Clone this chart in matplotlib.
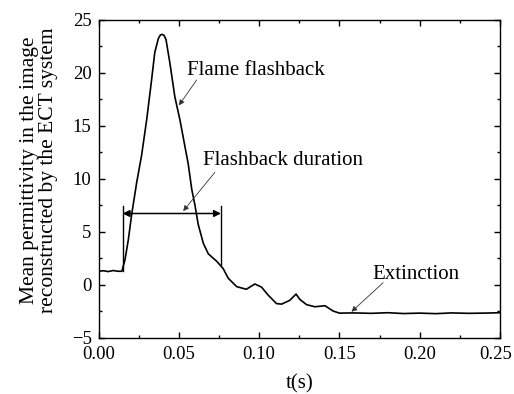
import matplotlib
matplotlib.use("Agg")
import matplotlib.pyplot as plt
from matplotlib.ticker import MultipleLocator
from matplotlib.transforms import ScaledTranslation

plt.rcParams['font.family'] = ['Liberation Serif', 'DejaVu Serif']

# time (s) and mean permittivity
t = [0.000, 0.003, 0.006, 0.009, 0.012, 0.0145, 0.0164, 0.0185, 0.0206, 0.0237,
     0.0268, 0.0300, 0.0330, 0.0350, 0.0372, 0.0385, 0.0396, 0.0408, 0.0420,
     0.0444, 0.0475, 0.0507, 0.0538, 0.0558, 0.0580, 0.0600, 0.0620, 0.0652,
     0.0683, 0.0735, 0.0776, 0.0807, 0.0860, 0.0920, 0.0973, 0.1015, 0.1056,
     0.1108, 0.1140, 0.1190, 0.1230, 0.1253, 0.1295, 0.1347, 0.1410, 0.1460,
     0.1500, 0.1585, 0.1700, 0.1800, 0.1900, 0.2000, 0.2100, 0.2200, 0.2300,
     0.2400, 0.2500]
v = [1.25, 1.30, 1.22, 1.32, 1.25, 1.25, 2.3, 4.2, 6.6, 9.6,
     12.2, 15.6, 19.3, 21.9, 23.2, 23.55, 23.6, 23.5, 23.1,
     20.9, 17.7, 15.5, 13.0, 11.4, 9.0, 7.5, 5.7, 3.9,
     2.9, 2.2, 1.5, 0.6, -0.2, -0.45, 0.05, -0.25, -1.0,
     -1.8, -1.85, -1.5, -0.9, -1.4, -1.9, -2.1, -2.0, -2.5,
     -2.7, -2.68, -2.72, -2.66, -2.74, -2.70, -2.75, -2.68, -2.72,
     -2.70, -2.66]

xticks = [0.00, 0.05, 0.10, 0.15, 0.20, 0.25]
yticks = [-5, 0, 5, 10, 15, 20, 25]

fig = plt.figure(figsize=(5.14, 3.94), dpi=100)
ax = fig.add_axes([0.1918, 0.1434, 0.781, 0.807])
ax.plot(t, v, color='black', lw=1.2)

ax.set_xlim(0, 0.25)
ax.set_ylim(-5, 25)
ax.set_xticks(xticks)
ax.set_xticklabels([f"{x:.2f}" for x in xticks])
ax.set_yticks(yticks)
ax.set_yticklabels([str(y).replace('-', '\u2212') for y in yticks])
ax.xaxis.set_minor_locator(MultipleLocator(0.025))
ax.yaxis.set_minor_locator(MultipleLocator(2.5))
ax.tick_params(which='both', direction='in', top=True, right=True, labelsize=13.5)
ax.tick_params(axis='x', which='major', pad=6)
ax.tick_params(axis='y', which='major', pad=5)
ax.tick_params(which='major', length=4, width=1)
ax.tick_params(which='minor', length=2.5, width=1)
for s in ax.spines.values():
    s.set_linewidth(1)

# keep the last x tick label inside the figure
last = ax.get_xticklabels()[-1]
last.set_transform(last.get_transform() + ScaledTranslation(-3 / 72, 0, fig.dpi_scale_trans))

ax.set_xlabel('t(s)', fontsize=15)
ax.set_ylabel('Mean permittivity in the image\nreconstructed by the ECT system',
              fontsize=15.5, linespacing=1.05)
ax.xaxis.set_label_coords(0.5, -0.115)
ax.yaxis.set_label_coords(-0.10, 0.525)

arr = dict(arrowstyle='-|>', color='#333333', lw=0.6,
           mutation_scale=8, shrinkA=0, shrinkB=0)
ax.text(0.0550, 19.76, 'Flame flashback', fontsize=15, ha='left', va='baseline')
ax.annotate('', xy=(0.050, 16.9), xytext=(0.0611, 19.3), arrowprops=arr)
ax.text(0.0648, 11.27, 'Flashback duration', fontsize=15, ha='left', va='baseline')
ax.annotate('', xy=(0.0527, 6.93), xytext=(0.0724, 10.58), arrowprops=arr)
ax.text(0.1708, 0.52, 'Extinction', fontsize=15, ha='left', va='baseline')
ax.annotate('', xy=(0.1575, -2.57), xytext=(0.1772, 0.17), arrowprops=arr)

# duration marker
ax.annotate('', xy=(0.0150, 6.7), xytext=(0.0762, 6.7),
            arrowprops=dict(arrowstyle='<|-|>', color='black', lw=1.1,
                            mutation_scale=10, shrinkA=0, shrinkB=0))
ax.plot([0.0150, 0.0150], [1.3, 7.4], color='black', lw=1.0)
ax.plot([0.0762, 0.0762], [1.8, 7.4], color='black', lw=1.0)

fig.savefig('out.png', dpi=100)
